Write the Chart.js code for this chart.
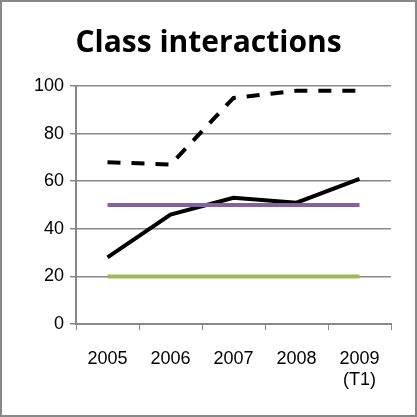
<!DOCTYPE html>
<html><head><meta charset="utf-8">
<script src="https://cdn.jsdelivr.net/npm/chart.js@4"></script>
<style>html,body{margin:0;padding:0;background:#fff}#w{width:417px;height:417px}</style>
</head><body><div id="w"><canvas id="c"></canvas></div>
<script>
const categories = ["2005","2006","2007","2008",["2009","(T1)"]];
const dashedSeries = [68,67,95,98,98];
const solidSeries = [28,46,53,51,61];
const purpleSeries = [50,50,50,50,50];
const greenSeries = [20,20,20,20,20];
const yTicks = [0,10,20,30,40,50,60,70,80,90,100];
const border = {id:'b',afterDraw(ch){const c=ch.ctx;c.save();c.strokeStyle='#888';c.lineWidth=2;c.strokeRect(1,1,ch.width-2,ch.height-2);c.restore();}};
new Chart(document.getElementById('c'),{
 type:'line',
 data:{labels:categories,datasets:[
  {data:purpleSeries,borderColor:'#8064a2',borderWidth:4},
  {data:greenSeries,borderColor:'#9bbb59',borderWidth:4},
  {data:dashedSeries,borderColor:'#000',borderWidth:4,borderDash:[13,11]},
  {data:solidSeries,borderColor:'#000',borderWidth:4}
 ]},
 options:{responsive:true,maintainAspectRatio:false,animation:false,
  elements:{point:{radius:0},line:{tension:0}},
  layout:{padding:0},
  plugins:{legend:{display:false},tooltip:{enabled:false},
   title:{display:true,text:'Class interactions',color:'#000',font:{family:'Open Sans',size:30,weight:'bold'},padding:{top:25,bottom:25}}},
  scales:{
   x:{offset:true,grid:{offset:true,drawOnChartArea:false,color:'#888',tickLength:6},border:{color:'#888',width:2},
      ticks:{color:'#000',font:{family:'Liberation Sans',size:18},padding:18,maxRotation:0},
      afterFit(s){s.height=93;}},
   y:{min:0,max:100,afterBuildTicks(s){s.ticks=yTicks.map(v=>({value:v}));},
      grid:{color:'#888',tickLength:6,lineWidth:1.5},border:{color:'#888',width:2},
      ticks:{color:'#000',font:{family:'Liberation Sans',size:18},padding:6},
      afterFit(s){s.width=76;}},
   yr:{position:'right',display:true,grid:{display:false},border:{display:false},ticks:{display:false},afterFit(s){s.width=26;}}
  }
 },plugins:[border]});
</script></body></html>
